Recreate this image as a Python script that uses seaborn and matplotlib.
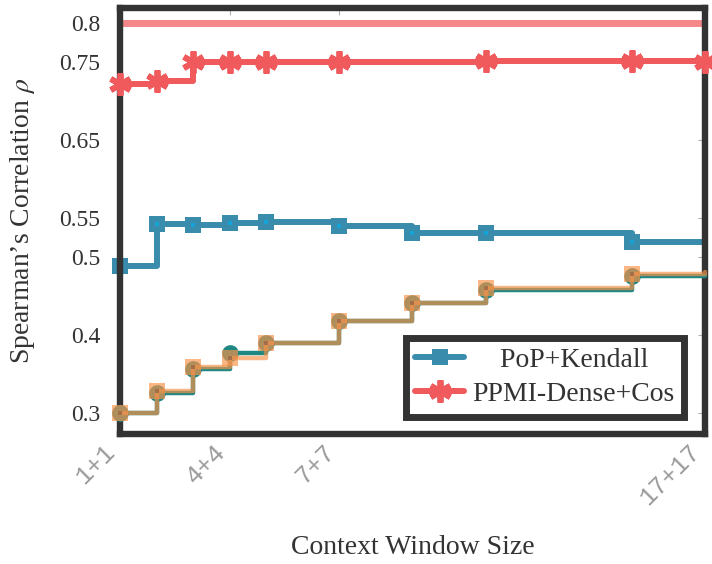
import matplotlib
matplotlib.use("Agg")
import matplotlib.pyplot as plt
import seaborn as sns
import pandas as pd

# Context window half-sizes (k means a k+k window)
window = [1, 2, 3, 4, 5, 7, 9, 11, 15, 17]
window_ppmi = [1, 2, 3, 4, 5, 7, 11, 15, 17]

pop_kendall = [0.4885, 0.542, 0.5405, 0.543, 0.545, 0.540, 0.530, 0.530, 0.519, 0.519]
ppmi_dense_cos = [0.722, 0.726, 0.750, 0.750, 0.750, 0.750, 0.751, 0.751, 0.750]
teal_series = [0.300, 0.326, 0.356, 0.377, 0.390, 0.418, 0.441, 0.458, 0.476, 0.476]
orange_series = [0.300, 0.328, 0.359, 0.370, 0.389, 0.418, 0.441, 0.460, 0.478, 0.480]
reference_level = 0.8

xtick_pos = [1, 4, 7, 17]
xtick_labels = ["1+1", "4+4", "7+7", "17+17"]
ytick_pos = [0.3, 0.4, 0.5, 0.55, 0.65, 0.75, 0.8]
ytick_labels = ["0.3", "0.4", "0.5", "0.55", "0.65", "0.75", "0.8"]

sns.set_style("white")
plt.rcParams["font.family"] = ["Liberation Serif", "DejaVu Serif"]
plt.rcParams["mathtext.fontset"] = "stix"

BLUE = "#3a8cac"
BLUE_DOT = "#16a2d4"
RED = "#f05a5c"
PINK = "#f5878a"
TEAL = "#1e8782"
ORANGE = "#f89248"
ORANGE_DOT = "#7a5a48"
DARK = "#333333"

fig = plt.figure(figsize=(7.12, 5.64), dpi=100)
ax = fig.add_axes([0.1685, 0.2305, 0.8215, 0.756])

df_full = pd.DataFrame({"w": window, "pop": pop_kendall,
                        "teal": teal_series, "orange": orange_series})
df_ppmi = pd.DataFrame({"w": window_ppmi, "ppmi": ppmi_dense_cos})

ax.axhline(reference_level, color=PINK, lw=5, zorder=1.5)

# lower pair of step curves
sns.lineplot(data=df_full, x="w", y="teal", ax=ax, color=TEAL, lw=3.2,
             drawstyle="steps-post", marker="o", markersize=12,
             markeredgewidth=0, markeredgecolor=TEAL,
             markevery=list(range(9)), clip_on=False, zorder=3)
sns.lineplot(data=df_full, x="w", y="orange", ax=ax, color=ORANGE, lw=3.2,
             alpha=0.67, drawstyle="steps-post", marker="s", markersize=12,
             markeredgewidth=0, markeredgecolor=ORANGE,
             markevery=list(range(9)), clip_on=False, zorder=3.1)
sns.scatterplot(data=df_full.iloc[:9], x="w", y="orange", ax=ax, marker="s",
                s=9, color=ORANGE_DOT, alpha=0.6, linewidth=0,
                clip_on=False, zorder=3.2)

# PoP + Kendall
sns.lineplot(data=df_full, x="w", y="pop", ax=ax, color=BLUE, lw=4.3,
             drawstyle="steps-post", marker="s", markersize=11.5,
             markeredgewidth=0, markeredgecolor=BLUE,
             markevery=list(range(9)), clip_on=False, zorder=2)
pop_line = ax.lines[-1]
sns.scatterplot(data=df_full.iloc[:9], x="w", y="pop", ax=ax, marker="s",
                s=10, color=BLUE_DOT, linewidth=0, clip_on=False, zorder=2.1)

# PPMI-Dense + Cos
sns.lineplot(data=df_ppmi, x="w", y="ppmi", ax=ax, color=RED, lw=4.3,
             drawstyle="steps-post", marker=(6, 2, 0), markersize=16,
             markeredgewidth=4.2, markeredgecolor=RED,
             clip_on=False, zorder=3.5)
ppmi_line = ax.lines[-1]

ax.set_xlim(1, 17)
ax.set_ylim(0.273, 0.8195)
ax.set_xticks(xtick_pos)
ax.set_xticklabels(xtick_labels, rotation=45, ha="right", va="top",
                   family="Liberation Mono", fontsize=18, color="#9a9a9a")
ax.set_yticks(ytick_pos)
ax.set_yticklabels(ytick_labels, fontsize=17, color=DARK)
ax.tick_params(axis="both", direction="in", length=5, width=0.8,
               color="#b0b0b0", top=True, right=True)
ax.tick_params(axis="y", pad=14)
ax.tick_params(axis="x", pad=4)

for sp in ax.spines.values():
    sp.set_color(DARK)
    sp.set_linewidth(4.6)
    sp.set_visible(True)

ax.set_xlabel("Context Window Size", fontsize=20, color=DARK, labelpad=18)
ax.set_ylabel(r"Spearman’s Correlation $\rho$", fontsize=20, color=DARK,
              labelpad=16)

leg = ax.legend([pop_line, ppmi_line],
                ["    PoP+Kendall", "PPMI-Dense+Cos"],
                loc="lower right", bbox_to_anchor=(0.965, 0.041),
                borderaxespad=0, fontsize=20, frameon=True, fancybox=False,
                framealpha=1, edgecolor=DARK, handlelength=1.75,
                handletextpad=0.3, borderpad=0.35, labelspacing=0.3,
                numpoints=1)
leg.get_frame().set_linewidth(5)
for t in leg.get_texts():
    t.set_color(DARK)

fig.savefig("out.png", dpi=100)
